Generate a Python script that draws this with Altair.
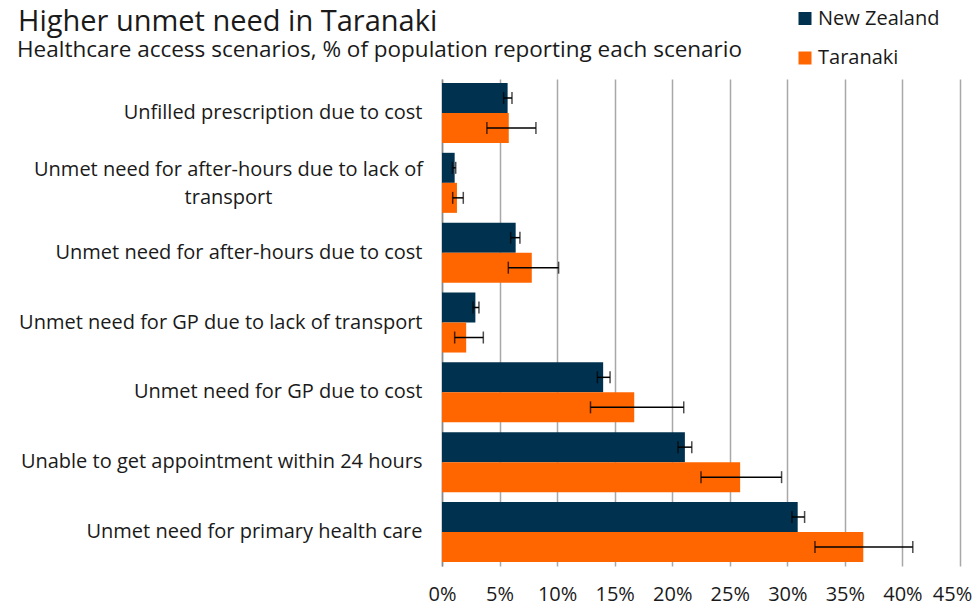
import altair as alt
import pandas as pd

categories = [
    "Unfilled prescription due to cost",
    "Unmet need for after-hours due to lack of transport",
    "Unmet need for after-hours due to cost",
    "Unmet need for GP due to lack of transport",
    "Unmet need for GP due to cost",
    "Unable to get appointment within 24 hours",
    "Unmet need for primary health care",
]
series = ["New Zealand", "Taranaki"]
colors = ["#00324f", "#ff6600"]

nz_values = [5.7, 1.1, 6.4, 2.9, 14.0, 21.1, 30.9]
nz_low = [5.35, 0.9, 5.96, 2.69, 13.5, 20.5, 30.4]
nz_high = [6.08, 1.19, 6.77, 3.21, 14.6, 21.7, 31.5]
tar_values = [5.8, 1.3, 7.8, 2.1, 16.7, 25.9, 36.6]
tar_low = [3.9, 0.93, 5.76, 1.1, 12.9, 22.5, 32.4]
tar_high = [8.16, 1.85, 10.13, 3.59, 21.0, 29.5, 40.9]
x_ticks = [0, 5, 10, 15, 20, 25, 30, 35, 40, 45]

title_text = "Higher unmet need in Taranaki"
subtitle_text = "Healthcare access scenarios, % of population reporting each scenario"

rows = []
for i, c in enumerate(categories):
    rows.append({"category": c, "series": series[0], "value": nz_values[i], "low": nz_low[i], "high": nz_high[i]})
    rows.append({"category": c, "series": series[1], "value": tar_values[i], "low": tar_low[i], "high": tar_high[i]})
df = pd.DataFrame(rows)

FONT = "Open Sans"
TXT = "#1a1a1a"
WRAP_TEST = "datum.value == 'Unmet need for after-hours due to lack of transport'"

y_enc = alt.Y(
    "category:N",
    sort=categories,
    title=None,
    scale=alt.Scale(paddingInner=0.14, paddingOuter=0.057),
    axis=alt.Axis(
        labelFontSize=20,
        labelFont=FONT,
        labelColor=TXT,
        labelLimit=430,
        labelPadding={"condition": {"test": WRAP_TEST, "value": 214}, "value": 20},
        labelAlign={"condition": {"test": WRAP_TEST, "value": "center"}, "value": "right"},
        labelOffset={"condition": {"test": WRAP_TEST, "value": -13}, "value": 0},
        labelLineHeight=28,
        ticks=False,
        domain=True,
        domainColor="#8a8a8a",
        domainWidth=1.5,
        labelExpr="datum.label == 'Unmet need for after-hours due to lack of transport' ? ['Unmet need for after-hours due to lack of', 'transport'] : datum.label",
    ),
)
yoff = alt.YOffset("series:N", sort=series, scale=alt.Scale(paddingInner=0, paddingOuter=0))
x_scale = alt.Scale(domain=[0, 45], nice=False)

base = alt.Chart(df)

bars = base.mark_bar().encode(
    y=y_enc,
    yOffset=yoff,
    x=alt.X(
        "value:Q",
        scale=x_scale,
        title=None,
        axis=alt.Axis(
            values=x_ticks,
            labelExpr="datum.value + '%'",
            labelFontSize=20,
            labelFont=FONT,
            labelColor=TXT,
            labelPadding=18,
            labelFlush=False,
            labelOverlap=False,
            labelBound=False,
            labelOffset={"condition": {"test": "datum.value == 45", "value": -8}, "value": 0},
            ticks=False,
            domain=False,
            grid=True,
            gridColor="#a8a8a8",
            gridWidth=1.5,
        ),
    ),
    color=alt.Color(
        "series:N",
        scale=alt.Scale(domain=series, range=colors),
        legend=alt.Legend(
            title=None,
            orient="none",
            legendX=353,
            legendY=-70.5,
            symbolType="square",
            symbolSize=169,
            symbolStrokeWidth=0,
            labelFontSize=20,
            labelFont=FONT,
            labelColor=TXT,
            rowPadding=19.5,
            labelOffset=3,
        ),
    ),
)

err = base.mark_rule(color="black", strokeWidth=1.5).encode(
    y=alt.Y("category:N", sort=categories),
    yOffset=yoff,
    x=alt.X("low:Q", scale=x_scale),
    x2="high:Q",
)
cap_lo = base.mark_tick(color="black", size=12, thickness=1.5).encode(
    y=alt.Y("category:N", sort=categories),
    yOffset=yoff,
    x=alt.X("low:Q", scale=x_scale),
)
cap_hi = base.mark_tick(color="black", size=12, thickness=1.5).encode(
    y=alt.Y("category:N", sort=categories),
    yOffset=yoff,
    x=alt.X("high:Q", scale=x_scale),
)

title_df = pd.DataFrame({"t": [title_text]})
sub_df = pd.DataFrame({"t": [subtitle_text]})
title_mark = alt.Chart(title_df).mark_text(
    align="left", baseline="alphabetic", fontSize=29, font=FONT, color=TXT
).encode(text="t:N", x=alt.value(-424), y=alt.value(-48))
sub_mark = alt.Chart(sub_df).mark_text(
    align="left", baseline="alphabetic", fontSize=22.5, font=FONT, color=TXT
).encode(text="t:N", x=alt.value(-425), y=alt.value(-22))

chart = alt.layer(bars, err, cap_lo, cap_hi, title_mark, sub_mark).properties(
    width=518,
    height=487,
    padding={"left": 434, "top": 71, "right": 12, "bottom": 39},
    autosize=alt.AutoSizeParams(type="none"),
).configure_view(stroke=None)

chart.save("out.html", embed_options={"renderer": "svg", "actions": False})
